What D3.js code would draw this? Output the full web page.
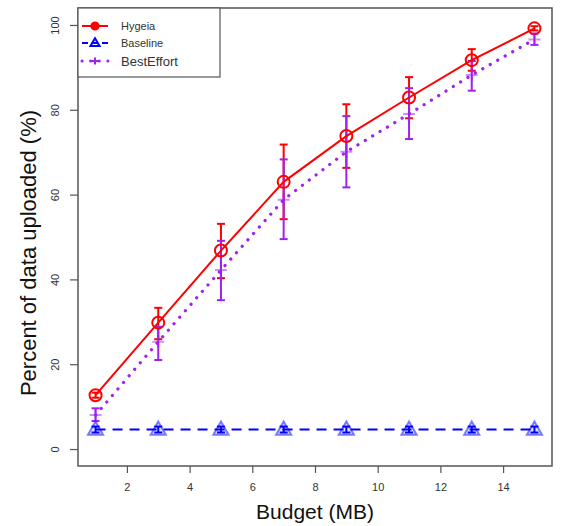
<!DOCTYPE html>
<html>
<head>
<meta charset="utf-8">
<script src="https://cdn.jsdelivr.net/npm/d3@7"></script>
<style>
  body { margin: 0; background: #fff; }
  svg { font-family: "Liberation Sans", Arial, Helvetica, sans-serif; }
</style>
</head>
<body>
<div id="chart"></div>
<script>
// --- Data ---
const budget = [1, 3, 5, 7, 9, 11, 13, 15];
const hygeia = [12.7, 29.8, 46.8, 63.0, 73.8, 82.9, 91.7, 99.2];
const hygeiaLo = [12.1, 25.9, 40.3, 54.2, 66.3, 78.0, 89.2, 98.7];
const hygeiaHi = [13.3, 33.3, 53.1, 71.8, 81.3, 87.7, 94.3, 99.7];
const baseline = [4.6, 4.6, 4.6, 4.6, 4.6, 4.6, 4.6, 4.6];
const baselineLo = [3.9, 3.9, 3.9, 3.9, 3.9, 3.9, 3.9, 3.9];
const baselineHi = [5.3, 5.3, 5.3, 5.3, 5.3, 5.3, 5.3, 5.3];
const bestEffort = [8.0, 25.3, 42.2, 58.8, 70.1, 79.0, 88.2, 96.6];
const bestLo = [6.6, 21.0, 35.1, 49.5, 61.7, 73.1, 84.5, 95.3];
const bestHi = [9.6, 28.8, 49.1, 68.3, 78.5, 85.1, 91.5, 98.0];
const xTicks = [2, 4, 6, 8, 10, 12, 14];
const yTicks = [0, 20, 40, 60, 80, 100];
const legendNames = ['Hygeia', 'Baseline', 'BestEffort'];

// --- Setup ---
const W = 561, H = 526;
const box = { left: 78, right: 552, top: 8, bottom: 466 };
const svg = d3.select('#chart').append('svg').attr('width', W).attr('height', H);

const x = d3.scaleLinear().domain([0.44, 15.56]).range([box.left, box.right]);
const y = d3.scaleLinear().domain([-4, 104]).range([box.bottom, box.top]);

const RED = '#ff0000', BLUE = '#0000ff', PURPLE = '#a020f0';

const series = [
  { name: 'Hygeia', mean: hygeia, lo: hygeiaLo, hi: hygeiaHi, color: RED, dash: null },
  { name: 'Baseline', mean: baseline, lo: baselineLo, hi: baselineHi, color: BLUE, dash: '10,7' },
  { name: 'BestEffort', mean: bestEffort, lo: bestLo, hi: bestHi, color: PURPLE, dash: '0.1,8.5' }
];

// --- Axes ---
const xAxis = svg.append('g').attr('transform', `translate(0,${box.bottom})`)
  .call(d3.axisBottom(x).tickValues(xTicks).tickSize(7).tickPadding(10));
const yAxis = svg.append('g').attr('transform', `translate(${box.left},0)`)
  .call(d3.axisLeft(y).tickValues(yTicks).tickSize(8).tickPadding(0));
[xAxis, yAxis].forEach(a => {
  a.select('.domain').remove();
  a.selectAll('line').attr('stroke', '#555').attr('stroke-width', 1.2);
  a.selectAll('text').attr('fill', '#333').style('font-size', '11px');
});
yAxis.selectAll('.tick text')
  .attr('text-anchor', 'middle')
  .attr('transform', 'translate(-23,0) rotate(-90)')
  .attr('x', 0).attr('dy', '0.35em');

svg.append('rect')
  .attr('x', box.left).attr('y', box.top)
  .attr('width', box.right - box.left).attr('height', box.bottom - box.top)
  .attr('fill', 'none').attr('stroke', '#555').attr('stroke-width', 1.5);

svg.append('text').attr('x', (box.left + box.right) / 2).attr('y', 519)
  .attr('text-anchor', 'middle').style('font-size', '21px').attr('fill', '#111')
  .text('Budget (MB)');
svg.append('text').attr('transform', 'translate(36,253) rotate(-90)')
  .attr('text-anchor', 'middle').style('font-size', '22px').attr('fill', '#111')
  .text('Percent of data uploaded (%)');

// --- Error bars ---
const cap = 4;
series.forEach(s => {
  const g = svg.append('g').attr('stroke', s.color).attr('stroke-width', 2);
  budget.forEach((b, i) => {
    const cx = x(b);
    g.append('line').attr('x1', cx).attr('x2', cx).attr('y1', y(s.lo[i])).attr('y2', y(s.hi[i]));
    g.append('line').attr('x1', cx - cap).attr('x2', cx + cap).attr('y1', y(s.lo[i])).attr('y2', y(s.lo[i]));
    g.append('line').attr('x1', cx - cap).attr('x2', cx + cap).attr('y1', y(s.hi[i])).attr('y2', y(s.hi[i]));
  });
});

// --- Lines ---
series.forEach(s => {
  const line = d3.line().x((d, i) => x(budget[i])).y(d => y(d));
  svg.append('path').datum(s.mean).attr('d', line)
    .attr('fill', 'none').attr('stroke', s.color)
    .attr('stroke-width', s.name === 'BestEffort' ? 3.2 : 2)
    .attr('stroke-linecap', s.name === 'BestEffort' ? 'round' : 'butt')
    .attr('stroke-dasharray', s.dash);
});

// --- Point symbols ---
function symbol(g, name, cx, cy, scale) {
  if (name === 'Hygeia') {
    g.append('circle').attr('cx', cx).attr('cy', cy).attr('r', 6 * scale)
      .attr('fill', scale < 1 ? RED : 'none').attr('stroke', RED).attr('stroke-width', 2);
  } else if (name === 'Baseline') {
    const r = 8 * scale;
    g.append('path')
      .attr('d', `M${cx},${cy - r}L${cx + r * 0.95},${cy + r * 0.65}L${cx - r * 0.95},${cy + r * 0.65}Z`)
      .attr('fill', scale < 1 ? 'none' : BLUE).attr('fill-opacity', 0.12)
      .attr('stroke', BLUE).attr('stroke-opacity', scale < 1 ? 1 : 0.5)
      .attr('stroke-width', 2);
  } else {
    const r = 6 * scale;
    g.append('path').attr('d', `M${cx - r},${cy}H${cx + r}M${cx},${cy - r}V${cy + r}`)
      .attr('stroke', PURPLE).attr('stroke-opacity', scale < 1 ? 1 : 0.5).attr('stroke-width', 2);
  }
}
const pts = svg.append('g');
series.forEach(s => budget.forEach((b, i) => symbol(pts, s.name, x(b), y(s.mean[i]), 1)));

// --- Legend ---
const leg = svg.append('g');
leg.append('rect').attr('x', box.left).attr('y', box.top).attr('width', 142).attr('height', 69)
  .attr('fill', '#fff').attr('stroke', '#555').attr('stroke-width', 1.2);
const legY = [26, 43, 61];
series.forEach((s, i) => {
  leg.append('line').attr('x1', 82).attr('x2', 108).attr('y1', legY[i]).attr('y2', legY[i])
    .attr('stroke', s.color).attr('stroke-width', s.name === 'BestEffort' ? 3 : 2)
    .attr('stroke-linecap', s.name === 'BestEffort' ? 'round' : 'butt')
    .attr('stroke-dasharray', s.name === 'Baseline' ? '6,4' : s.dash);
  symbol(leg, s.name, 95, legY[i], 0.6);
  leg.append('text').attr('x', 121).attr('y', legY[i]).attr('dy', '0.35em')
    .attr('fill', '#333').style('font-size', i === 2 ? '13px' : '11px')
    .text(legendNames[i]);
});
</script>
</body>
</html>
